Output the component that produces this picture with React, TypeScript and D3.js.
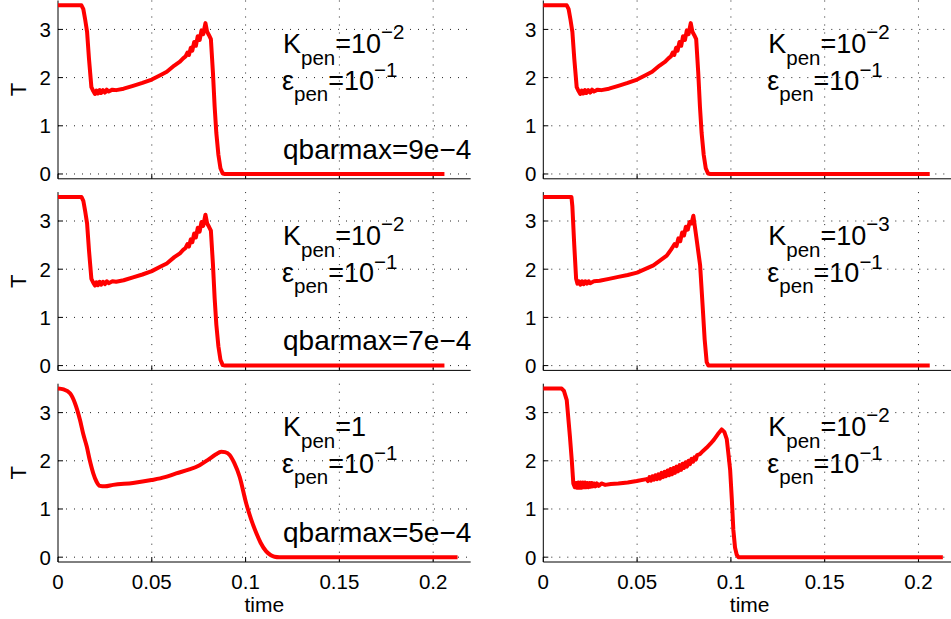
import { useEffect, useRef } from 'react';
import * as d3 from 'd3';

// time / T samples
const curveSteep: [number, number][] = [
  [0, 3.5], [0.0125, 3.5], [0.0135, 3.42], [0.0145, 3.2], [0.0155, 2.95], [0.0165, 2.4], [0.0178, 1.8], [0.0188, 1.72],
  [0.0197, 1.66], [0.0205, 1.73], [0.0213, 1.67], [0.0222, 1.74], [0.023, 1.68], [0.024, 1.74], [0.025, 1.69],
  [0.026, 1.75], [0.027, 1.71], [0.029, 1.75], [0.031, 1.74], [0.035, 1.77], [0.04, 1.83], [0.045, 1.89],
  [0.05, 1.96], [0.055, 2.06], [0.058, 2.12], [0.062, 2.25], [0.065, 2.33], [0.0667, 2.4], [0.068, 2.44],
  [0.069, 2.52], [0.0698, 2.47], [0.0708, 2.62], [0.0716, 2.56], [0.0726, 2.74], [0.0735, 2.66], [0.0745, 2.86],
  [0.0755, 2.78], [0.0765, 2.98], [0.0774, 2.9], [0.0786, 3.13], [0.0795, 2.95], [0.0805, 2.88], [0.0815, 2.8],
  [0.0826, 2.1], [0.0835, 1.4], [0.0844, 0.85], [0.0855, 0.4], [0.0866, 0.12], [0.0878, 0.01], [0.089, 0], [0.206, 0],
];

const curveK3: [number, number][] = [
  [0, 3.5], [0.015, 3.5], [0.0155, 3.3], [0.0165, 2.5], [0.0175, 1.8], [0.0182, 1.7],
  [0.019, 1.75], [0.0198, 1.68], [0.0207, 1.75], [0.0215, 1.69], [0.0224, 1.75], [0.0233, 1.7], [0.0242, 1.75],
  [0.025, 1.71], [0.027, 1.75], [0.03, 1.76], [0.035, 1.8], [0.04, 1.84], [0.045, 1.88], [0.05, 1.93],
  [0.0587, 2.08], [0.0658, 2.28], [0.068, 2.4], [0.069, 2.46], [0.07, 2.52], [0.071, 2.48], [0.072, 2.64],
  [0.073, 2.58], [0.074, 2.76], [0.075, 2.7], [0.076, 2.88], [0.077, 2.82], [0.078, 2.98], [0.079, 2.95],
  [0.08, 3.11], [0.0818, 2.6], [0.0836, 2.08], [0.085, 1.2], [0.086, 0.55], [0.0871, 0.07], [0.088, 0], [0.206, 0],
];

const curveSmooth: [number, number][] = [
  [0, 3.5], [0.003, 3.48], [0.0064, 3.4], [0.009, 3.2], [0.0117, 2.85], [0.0135, 2.55], [0.0153, 2.3],
  [0.017, 2.0], [0.0188, 1.74], [0.0205, 1.57], [0.0223, 1.48], [0.025, 1.47], [0.0294, 1.5], [0.04, 1.54],
  [0.0498, 1.6], [0.057, 1.66], [0.063, 1.74], [0.07, 1.82], [0.0755, 1.91], [0.08, 2.02], [0.084, 2.13],
  [0.087, 2.19], [0.089, 2.18], [0.0915, 2.12], [0.094, 1.95], [0.0968, 1.67], [0.1003, 1.12], [0.103, 0.78],
  [0.1057, 0.5], [0.108, 0.3], [0.111, 0.12], [0.1135, 0.04], [0.1154, 0.01], [0.118, 0], [0.213, 0],
];

const curveLate: [number, number][] = [
  [0, 3.5], [0.0098, 3.5], [0.011, 3.45], [0.0125, 3.26], [0.0133, 2.9], [0.0142, 2.5], [0.0152, 2.0],
  [0.016, 1.53], [0.0168, 1.45], [0.0174, 1.54], [0.018, 1.44], [0.0186, 1.55], [0.0192, 1.44], [0.0198, 1.55],
  [0.0204, 1.44], [0.021, 1.55], [0.0216, 1.45], [0.0222, 1.55], [0.0228, 1.45], [0.0234, 1.54], [0.024, 1.45],
  [0.0246, 1.54], [0.0252, 1.46], [0.0258, 1.54], [0.0264, 1.47], [0.027, 1.53], [0.0278, 1.47], [0.0286, 1.53],
  [0.0295, 1.48], [0.031, 1.53], [0.033, 1.5], [0.036, 1.52], [0.04, 1.53], [0.045, 1.55],
  [0.0498, 1.58], [0.055, 1.62], [0.0558, 1.58], [0.0566, 1.66], [0.0574, 1.59], [0.0582, 1.68], [0.059, 1.61],
  [0.0598, 1.7], [0.0606, 1.62], [0.0614, 1.72], [0.0622, 1.63], [0.063, 1.75], [0.0638, 1.66], [0.0646, 1.77],
  [0.0654, 1.68], [0.0662, 1.8], [0.067, 1.7], [0.0678, 1.83], [0.0686, 1.72], [0.0694, 1.85], [0.0702, 1.75],
  [0.071, 1.88], [0.0718, 1.78], [0.0726, 1.91], [0.0734, 1.81], [0.0742, 1.94], [0.075, 1.85], [0.0758, 1.97],
  [0.0766, 1.88], [0.0774, 2.0], [0.0782, 1.93], [0.079, 2.04], [0.0798, 1.98], [0.0806, 2.07], [0.0814, 2.03],
  [0.082, 2.12], [0.0835, 2.14], [0.085, 2.2], [0.087, 2.27], [0.089, 2.35], [0.091, 2.44], [0.093, 2.55],
  [0.0951, 2.65], [0.0965, 2.6], [0.0978, 2.45], [0.0988, 2.1], [0.0996, 1.81], [0.1005, 1.2], [0.1013, 0.57],
  [0.1022, 0.2], [0.1031, 0.05], [0.104, 0], [0.213, 0],
];

// panels: row 1 L, R; row 2 L, R; row 3 L, R
const panelCurves = [curveSteep, curveSteep, curveSteep, curveK3, curveSmooth, curveLate];
const kpenBase = ['10', '10', '10', '10', '1', '10'];
const kpenSup = ['−2', '−2', '−2', '−3', '', '−2'];
const epsBase = ['10', '10', '10', '10', '10', '10'];
const epsSup = ['−1', '−1', '−1', '−1', '−1', '−1'];
const qbarLabels = ['qbarmax=9e−4', '', 'qbarmax=7e−4', '', 'qbarmax=5e−4', ''];

const xTicks = [0, 0.05, 0.1, 0.15, 0.2];
const xTickLabels = ['0', '0.05', '0.1', '0.15', '0.2'];
const yTicks = [0, 1, 2, 3];

export default function App() {
  const svgRef = useRef<SVGSVGElement>(null);

  useEffect(() => {
    const width = 951;
    const height = 619;
    const colLeft = [58, 543.3];
    const rowTop = [0.5, 192.1, 383.7];
    const plotW = 412.7;
    const plotH = 178.3;
    const font = '"Liberation Sans", Arial, Helvetica, sans-serif';

    const svg = d3.select(svgRef.current)
      .attr('width', width)
      .attr('height', height);
    svg.selectAll('*').remove();

    panelCurves.forEach((curve, i) => {
      const row = Math.floor(i / 2);
      const col = i % 2;
      const x0 = colLeft[col];
      const y0 = rowTop[row];

      const x = d3.scaleLinear().domain([0, 0.22]).range([x0, x0 + plotW]);
      const y = d3.scaleLinear().domain([-0.1, 3.6]).range([y0 + plotH, y0]);

      const g = svg.append('g').attr('font-family', font);

      // dotted grid
      g.selectAll('.hgrid')
        .data(yTicks)
        .enter()
        .append('line')
        .attr('x1', x0).attr('x2', x0 + plotW)
        .attr('y1', d => y(d)).attr('y2', d => y(d))
        .attr('stroke', '#222').attr('stroke-width', 1)
        .attr('stroke-dasharray', '1,7');
      g.selectAll('.vgrid')
        .data(xTicks.slice(1))
        .enter()
        .append('line')
        .attr('x1', d => x(d)).attr('x2', d => x(d))
        .attr('y1', y0).attr('y2', y0 + plotH)
        .attr('stroke', '#222').attr('stroke-width', 1)
        .attr('stroke-dasharray', '1,7');

      // axes (left + bottom only)
      g.append('line')
        .attr('x1', x0).attr('x2', x0 + plotW)
        .attr('y1', y0 + plotH).attr('y2', y0 + plotH)
        .attr('stroke', '#000').attr('stroke-width', 1);
      g.append('line')
        .attr('x1', x0).attr('x2', x0)
        .attr('y1', y0).attr('y2', y0 + plotH)
        .attr('stroke', '#000').attr('stroke-width', 1);

      // inward ticks
      g.selectAll('.xtick')
        .data(xTicks)
        .enter()
        .append('line')
        .attr('x1', d => x(d)).attr('x2', d => x(d))
        .attr('y1', y0 + plotH).attr('y2', y0 + plotH - 5)
        .attr('stroke', '#000');
      g.selectAll('.ytick')
        .data(yTicks)
        .enter()
        .append('line')
        .attr('x1', x0).attr('x2', x0 + 5)
        .attr('y1', d => y(d)).attr('y2', d => y(d))
        .attr('stroke', '#000');

      // y tick labels
      g.selectAll('.ylab')
        .data(yTicks)
        .enter()
        .append('text')
        .attr('x', x0 - 7)
        .attr('y', d => y(d))
        .attr('dy', '0.36em')
        .attr('text-anchor', 'end')
        .attr('font-size', 20.5)
        .text(d => d);

      if (row === 2) {
        g.selectAll('.xlab')
          .data(xTicks)
          .enter()
          .append('text')
          .attr('x', d => x(d))
          .attr('y', y0 + plotH + 27)
          .attr('text-anchor', 'middle')
          .attr('font-size', 20.5)
          .text((d, j) => xTickLabels[j]);
        g.append('text')
          .attr('x', x0 + plotW / 2)
          .attr('y', y0 + plotH + 50)
          .attr('text-anchor', 'middle')
          .attr('font-size', 21)
          .text('time');
      }

      if (col === 0) {
        g.append('text')
          .attr('transform', `translate(${x0 - 32},${y0 + plotH / 2}) rotate(-90)`)
          .attr('text-anchor', 'middle')
          .attr('font-size', 22)
          .text('T');
      }

      // curve
      const line = d3.line<[number, number]>()
        .x(d => x(d[0]))
        .y(d => y(d[1]))
        .curve(curve === curveSmooth ? d3.curveMonotoneX : d3.curveLinear);
      g.append('path')
        .datum(curve)
        .attr('fill', 'none')
        .attr('stroke', '#ff0000')
        .attr('stroke-width', 4)
        .attr('stroke-linejoin', 'round')
        .attr('d', line);

      // annotations
      const ax = x0 + 225;
      const k = g.append('text').attr('x', ax).attr('y', y0 + 52.5).attr('font-size', 27);
      k.append('tspan').text('K');
      k.append('tspan').attr('dy', 12).attr('font-size', 20.5).text('pen');
      k.append('tspan').attr('dy', -12).text('=' + kpenBase[i]);
      if (kpenSup[i]) k.append('tspan').attr('dy', -14).attr('font-size', 20.5).text(kpenSup[i]);

      const e = g.append('text').attr('x', ax - 1).attr('y', y0 + 89.5).attr('font-size', 27);
      e.append('tspan').text('ε');
      e.append('tspan').attr('dy', 11).attr('font-size', 20.5).text('pen');
      e.append('tspan').attr('dy', -11).text('=' + epsBase[i]);
      e.append('tspan').attr('dy', -13).attr('font-size', 20.5).text(epsSup[i]);

      if (qbarLabels[i]) {
        g.append('text')
          .attr('x', ax)
          .attr('y', y0 + 158)
          .attr('font-size', 28)
          .text(qbarLabels[i]);
      }
    });
  }, []);

  return (
    <svg ref={svgRef} style={{ position: 'absolute', left: 0, top: 0, background: '#fff' }}></svg>
  );
}
